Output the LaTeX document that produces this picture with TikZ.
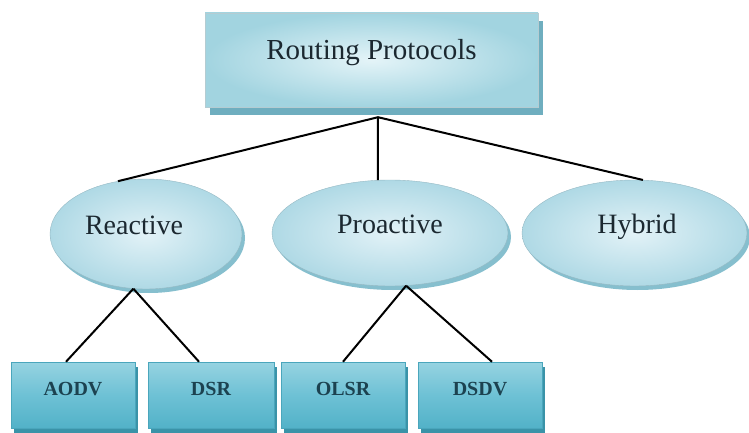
\documentclass[tikz,border=0pt]{standalone}
\usepackage{fontspec}
\setmainfont{Liberation Serif}
\usetikzlibrary{shapes.geometric,shadows}
\definecolor{topin}{HTML}{E4F4F8}
\definecolor{topout}{HTML}{A2D4E0}
\definecolor{topsh}{HTML}{6FAEBF}
\definecolor{elin}{HTML}{E2F2F7}
\definecolor{elout}{HTML}{AFD9E5}
\definecolor{elsh}{HTML}{86BFCE}
\definecolor{leaftop}{HTML}{96D3E1}
\definecolor{leafmid}{HTML}{6EC1D5}
\definecolor{leafbot}{HTML}{52B2C8}
\definecolor{leafsh}{HTML}{3A93A8}
\definecolor{leafedge}{HTML}{4AA6BC}
\definecolor{txt}{HTML}{1B2830}
\definecolor{leaftxt}{HTML}{1C4250}
\tikzset{
  topbox/.style={rectangle, inner sep=0pt, minimum width=333pt, minimum height=94pt,
    inner color=topin, outer color=topout, draw=topout!80!black!60, line width=0.4pt,
    general shadow={fill=topsh, shadow xshift=5pt, shadow yshift=-8pt},
    font=\fontsize{29}{29}\selectfont, text=txt, text height=19pt, text depth=19pt},
  cat/.style={ellipse, inner sep=0pt, inner color=elin, outer color=elout,
    draw=elout!85!black, line width=0.4pt,
    general shadow={fill=elsh, shadow xshift=3pt, shadow yshift=-4pt},
    font=\fontsize{28}{28}\selectfont, text=txt, text height=19pt, text depth=19pt},
  leaf/.style={rectangle, inner sep=0pt, minimum width=124pt, minimum height=66pt,
    top color=leaftop, bottom color=leafbot, middle color=leafmid,
    draw=leafedge, line width=0.5pt,
    general shadow={fill=leafsh, shadow xshift=3pt, shadow yshift=-5pt},
    font=\fontsize{20}{20}\selectfont\bfseries, text=leaftxt, text height=14pt, text depth=14pt},
  conn/.style={draw=black, line width=2pt}
}
\begin{document}
\begin{tikzpicture}[x=1pt,y=-1pt]
\useasboundingbox (0,0) rectangle (749,433);
\node[topbox] (top) at (371.5,60) {Routing Protocols};
\node[cat, minimum width=192pt, minimum height=110pt] (re) at (146,234) {Reactive\hspace*{24pt}};
\node[cat, minimum width=236pt, minimum height=106pt] (pr) at (390,233) {Proactive};
\node[cat, minimum width=225pt, minimum height=106pt] (hy) at (634.5,233) {\hspace*{5pt}Hybrid};
\node[leaf] (ao) at (73,395) {AODV};
\node[leaf, minimum width=126pt] (ds) at (211,395) {DSR};
\node[leaf] (ol) at (343,395) {OLSR};
\node[leaf] (dv) at (480,395) {DSDV};
\coordinate (j) at ([xshift=6.5pt,yshift=-10pt]top.south);
\draw[conn] (j) -- (re.118);
\draw[conn] (j) -- (pr.103);
\draw[conn] (j) -- (hy.81);
\draw[conn] (re.-103) -- ([xshift=-7pt]ao.north);
\draw[conn] (re.-103) -- ([xshift=-12pt]ds.north);
\draw[conn] (pr.-73) -- (ol.north);
\draw[conn] (pr.-73) -- ([xshift=12pt]dv.north);
\end{tikzpicture}
\end{document}
